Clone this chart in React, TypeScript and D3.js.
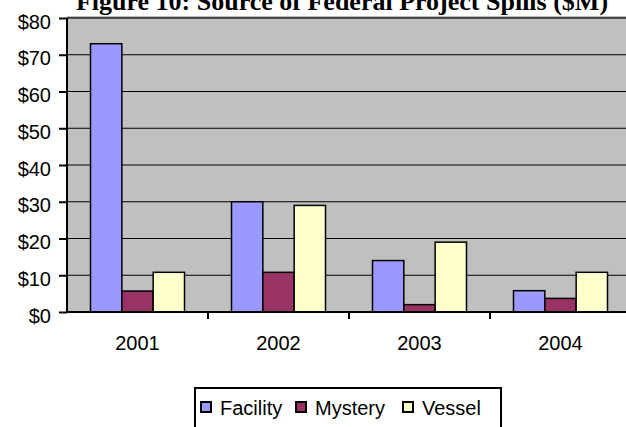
import { axisBottom, axisLeft, scaleBand, scaleLinear, select } from "d3";
import { useEffect, useRef } from "react";

const years = ["2001", "2002", "2003", "2004"];
const seriesNames = ["Facility", "Mystery", "Vessel"];
const facility = [73, 30, 14, 5.8];
const mystery = [5.7, 10.8, 2, 3.7];
const vessel = [10.8, 29, 19, 10.8];
const yTicks = [0, 10, 20, 30, 40, 50, 60, 70, 80];
const colors = ["#9999FF", "#993366", "#FFFFCC"];

export default function App() {
  const svgRef = useRef<SVGSVGElement>(null);

  useEffect(() => {
    const svg = svgRef.current;
    if (svg === null) return;
    const root = select(svg);
    root.selectAll("*").remove();

    const left = 67;
    const right = 631;
    const top = 18;
    const bottom = 312;

    const x0 = scaleBand<string>()
      .domain(years)
      .range([left, right])
      .paddingInner(1 / 3)
      .paddingOuter(1 / 6);
    const x1 = scaleBand<string>()
      .domain(seriesNames)
      .range([0, x0.bandwidth()])
      .padding(0);
    const y = scaleLinear().domain([0, 80]).range([bottom, top]);

    // plot background
    root.append("rect")
      .attr("x", left)
      .attr("y", top)
      .attr("width", right - left)
      .attr("height", bottom - top)
      .attr("fill", "#C0C0C0");
    root.append("line")
      .attr("x1", left).attr("x2", right)
      .attr("y1", top - 0.5).attr("y2", top - 0.5)
      .attr("stroke", "#808080")
      .attr("stroke-width", 2);

    // gridlines
    root.append("g")
      .selectAll("line")
      .data(yTicks.slice(1))
      .join("line")
      .attr("x1", left).attr("x2", right)
      .attr("y1", d => y(d)).attr("y2", d => y(d))
      .attr("stroke", "#000")
      .attr("stroke-width", 1.2);

    // bars
    const values = [facility, mystery, vessel];
    const data = years.flatMap((yr, i) =>
      seriesNames.map((s, j) => ({ yr, s, v: values[j][i], c: colors[j] }))
    );
    root.append("g")
      .selectAll("rect")
      .data(data)
      .join("rect")
      .attr("x", d => (x0(d.yr) ?? 0) + (x1(d.s) ?? 0))
      .attr("y", d => y(d.v))
      .attr("width", x1.bandwidth())
      .attr("height", d => bottom - y(d.v))
      .attr("fill", d => d.c)
      .attr("stroke", "#000")
      .attr("stroke-width", 1.5);

    // y axis
    const ya = root.append("g")
      .attr("transform", `translate(${left},0)`)
      .call(axisLeft(y).tickValues(yTicks).tickFormat(d => `$${d}`).tickSize(8).tickPadding(8));
    ya.select(".domain").attr("stroke-width", 2).attr("d", `M0,${top}V${bottom}`);
    ya.selectAll(".tick line").attr("stroke-width", 2);
    ya.selectAll(".tick text")
      .attr("font-family", "'Liberation Sans', Arial, sans-serif")
      .attr("font-size", 20)
      .attr("fill", "#000")
      .attr("dy", "0.5em");

    // x axis
    const xa = root.append("g")
      .attr("transform", `translate(0,${bottom})`)
      .call(axisBottom(x0).tickSize(0).tickPadding(24));
    xa.select(".domain").attr("stroke-width", 2).attr("d", `M${left},0H${right}`);
    xa.selectAll(".tick text")
      .attr("font-family", "'Liberation Sans', Arial, sans-serif")
      .attr("font-size", 20)
      .attr("fill", "#000");
    // tick marks sit between the year groups
    const gap = (x0.step() - x0.bandwidth()) / 2;
    root.append("g")
      .selectAll("line")
      .data(years.slice(1))
      .join("line")
      .attr("x1", d => (x0(d) ?? 0) - gap)
      .attr("x2", d => (x0(d) ?? 0) - gap)
      .attr("y1", bottom)
      .attr("y2", bottom + 7)
      .attr("stroke", "#000")
      .attr("stroke-width", 2);

    // title (clipped at top in the original)
    root.append("text")
      .attr("x", 342)
      .attr("y", 10)
      .attr("text-anchor", "middle")
      .attr("font-family", "'Liberation Serif', 'Times New Roman', serif")
      .attr("font-weight", "bold")
      .attr("font-size", 26)
      .text("Figure 10:  Source of Federal Project Spills ($M)");

    // legend
    const lg = root.append("g");
    lg.append("rect")
      .attr("x", 195)
      .attr("y", 388)
      .attr("width", 306)
      .attr("height", 50)
      .attr("fill", "#fff")
      .attr("stroke", "#000")
      .attr("stroke-width", 2);
    const legendX = [201, 296, 403];
    const items = lg.selectAll("g.item")
      .data(seriesNames)
      .join("g")
      .attr("class", "item")
      .attr("transform", (_, i) => `translate(${legendX[i]},402)`);
    items.append("rect")
      .attr("width", 10)
      .attr("height", 10)
      .attr("fill", (_, i) => colors[i])
      .attr("stroke", "#000")
      .attr("stroke-width", 2);
    items.append("text")
      .attr("x", 19)
      .attr("y", 13)
      .attr("font-family", "'Liberation Sans', Arial, sans-serif")
      .attr("font-size", 20)
      .text(d => d);
  }, []);

  return (
    <svg
      ref={svgRef}
      width={626}
      height={427}
      style={{ position: "absolute", left: 0, top: 0, background: "#fff" }}
    />
  );
}
